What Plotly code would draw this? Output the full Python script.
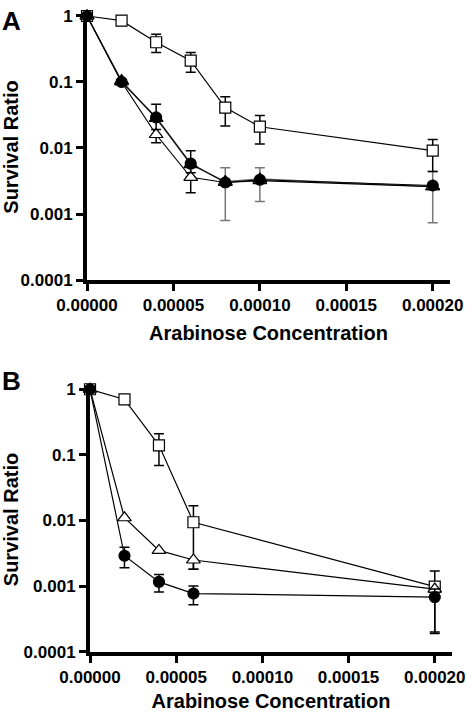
import plotly.graph_objects as go

# ---------------- data ----------------
conc_A = [0, 0.00002, 0.00004, 0.00006, 0.00008, 0.00010, 0.00020]
A_square = [1.0, 0.85, 0.40, 0.21, 0.041, 0.021, 0.0091]
A_square_hi = [1.0, 0.85, 0.53, 0.28, 0.060, 0.031, 0.0135]
A_square_lo = [1.0, 0.85, 0.28, 0.14, 0.0215, 0.0115, 0.0044]

A_tri_open = [1.0, 0.10, 0.016, 0.0036, 0.0030, 0.0032, 0.0026]
A_tri_open_hi = [1.0, 0.10, 0.016, 0.0036, 0.0030, 0.0032, 0.0026]
A_tri_open_lo = [1.0, 0.10, 0.012, 0.0021, 0.0030, 0.0032, 0.0026]

A_circle = [1.0, 0.10, 0.029, 0.0058, 0.0030, 0.0033, 0.0027]
A_circle_hi = [1.0, 0.11, 0.046, 0.0091, 0.0030, 0.0033, 0.0027]
A_circle_lo = [1.0, 0.09, 0.019, 0.0042, 0.0030, 0.0033, 0.0027]

A_tri_fill = [1.0, 0.105, 0.028, 0.0056, 0.0031, 0.0034, 0.0026]
A_tri_fill_hi = [1.0, 0.105, 0.028, 0.0056, 0.0050, 0.0050, 0.0044]
A_tri_fill_lo = [1.0, 0.105, 0.028, 0.0056, 0.0008, 0.00154, 0.00074]

conc_B = [0, 0.00002, 0.00004, 0.00006, 0.00020]
B_square = [1.0, 0.70, 0.14, 0.0094, 0.00098]
B_square_hi = [1.0, 0.70, 0.21, 0.0167, 0.0017]
B_square_lo = [1.0, 0.70, 0.069, 0.0018, 0.0002]

B_tri = [1.0, 0.011, 0.0035, 0.0025, 0.0009]
B_tri_hi = [1.0, 0.011, 0.0035, 0.0025, 0.0009]
B_tri_lo = [1.0, 0.011, 0.0035, 0.0018, 0.0009]

B_circle = [1.0, 0.0029, 0.00116, 0.00077, 0.00068]
B_circle_hi = [1.0, 0.0039, 0.0015, 0.0010, 0.0009]
B_circle_lo = [1.0, 0.0019, 0.00081, 0.00052, 0.00019]

x_ticks = [0, 0.00005, 0.00010, 0.00015, 0.00020]
x_ticktext = ["0.00000", "0.00005", "0.00010", "0.00015", "0.00020"]
y_ticks = [1, 0.1, 0.01, 0.001, 0.0001]
y_ticktext = ["1", "0.1", "0.01", "0.001", "0.0001"]

FONT = "Liberation Sans, Arial, sans-serif"


def err(y, hi, lo):
    return dict(type="data", symmetric=False,
                array=[h - v for h, v in zip(hi, y)],
                arrayminus=[v - l for v, l in zip(y, lo)])


def trace(x, y, hi, lo, symbol, fill, xa, ya, color="black", ecolor="black", size=11):
    e = err(y, hi, lo)
    e.update(color=ecolor, thickness=1.5, width=5)
    return go.Scatter(
        x=x, y=y, mode="lines+markers", xaxis=xa, yaxis=ya,
        line=dict(color=color, width=1.2),
        marker=dict(symbol=symbol, size=size, color=fill,
                    line=dict(color="black", width=1.2)),
        error_y=e, cliponaxis=False, showlegend=False)


fig = go.Figure()
# Panel A
fig.add_trace(trace(conc_A, A_tri_fill, A_tri_fill_hi, A_tri_fill_lo, "triangle-up", "black", "x", "y",
                    color="#666666", ecolor="#777777", size=12))
fig.add_trace(trace(conc_A, A_square, A_square_hi, A_square_lo, "square", "white", "x", "y"))
fig.add_trace(trace(conc_A, A_tri_open, A_tri_open_hi, A_tri_open_lo, "triangle-up", "white", "x", "y", size=12))
fig.add_trace(trace(conc_A, A_circle, A_circle_hi, A_circle_lo, "circle", "black", "x", "y"))
# Panel B
fig.add_trace(trace(conc_B, B_square, B_square_hi, B_square_lo, "square", "white", "x2", "y2"))
fig.add_trace(trace(conc_B, B_tri, B_tri_hi, B_tri_lo, "triangle-up", "white", "x2", "y2", size=12))
fig.add_trace(trace(conc_B, B_circle, B_circle_hi, B_circle_lo, "circle", "black", "x2", "y2"))

W, H = 466, 712

xcommon = dict(range=[0, 0.00021], tickvals=x_ticks, ticktext=x_ticktext, automargin=False,
               showline=True, linewidth=4, linecolor="black", ticks="outside",
               ticklen=7, tickwidth=3, tickcolor="black", showgrid=False, zeroline=False,
               tickfont=dict(family=FONT, size=17, color="black", weight="bold"),
               title=dict(text="<b>Arabinose Concentration</b>", standoff=13,
                          font=dict(family=FONT, size=20, color="black")))
ycommon = dict(type="log", range=[-4, 0.03], tickvals=y_ticks, ticktext=y_ticktext, automargin=False,
               showline=True, linewidth=4, linecolor="black", ticks="outside",
               ticklen=7, tickwidth=3, tickcolor="black", showgrid=False, zeroline=False,
               tickfont=dict(family=FONT, size=17, color="black", weight="bold"),
               title=dict(text="<b>Survival Ratio</b>", standoff=7,
                          font=dict(family=FONT, size=20, color="black")))

fig.update_layout(
    template="none",
    width=W, height=H, margin=dict(l=0, r=0, t=0, b=0),
    paper_bgcolor="white", plot_bgcolor="white",
    xaxis=dict(xcommon, domain=[87 / W, 450 / W], anchor="y"),
    yaxis=dict(ycommon, domain=[1 - 280 / H, 1 - 14 / H], anchor="x"),
    xaxis2=dict(xcommon, domain=[90 / W, 452 / W], anchor="y2"),
    yaxis2=dict(ycommon, domain=[1 - 651.7 / H, 1 - 387.3 / H], anchor="x2"),
    annotations=[
        dict(text="<b>A</b>", x=0, y=1 - 4 / H, xref="paper", yref="paper",
             xanchor="left", yanchor="top", showarrow=False,
             font=dict(family=FONT, size=26, color="black")),
        dict(text="<b>B</b>", x=0, y=1 - 364 / H, xref="paper", yref="paper",
             xanchor="left", yanchor="top", showarrow=False,
             font=dict(family=FONT, size=26, color="black")),
    ],
)

fig.write_html("out.html", config={"displayModeBar": False},
               post_script="document.body.style.margin='0px';document.body.style.overflow='hidden';")
